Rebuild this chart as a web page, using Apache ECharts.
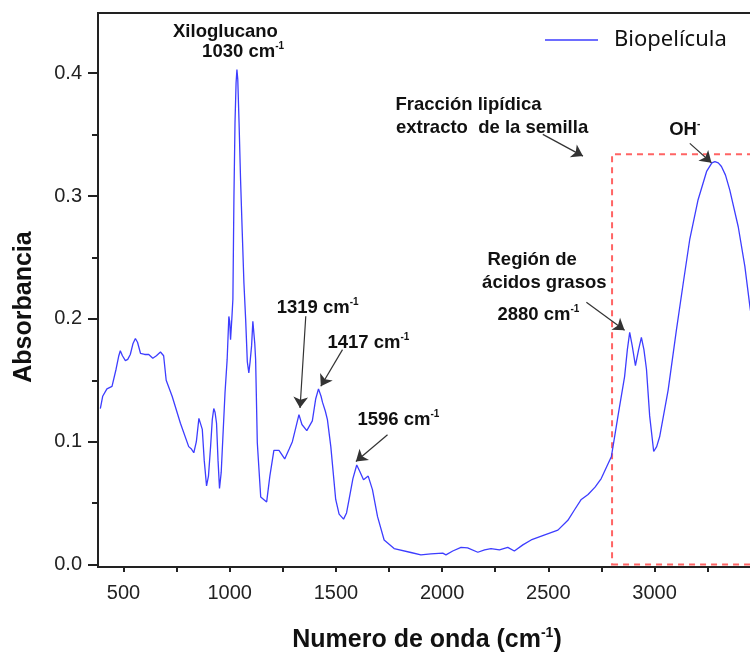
<!DOCTYPE html>
<html>
<head>
<meta charset="utf-8">
<script src="https://cdn.jsdelivr.net/npm/echarts@6/dist/echarts.min.js"></script>
<style>
  html, body { margin: 0; padding: 0; background: #fff; width: 750px; height: 654px; overflow: hidden; }
  #chart { width: 800px; height: 654px; }
</style>
</head>
<body>
<div id="chart"></div>
<script>
// spectrum (wavenumber cm-1 / absorbance)
var wavenumber = [391, 402, 422, 446, 465, 478, 485, 495, 509, 520, 532, 545, 556, 566, 580, 600, 619, 638, 655, 674,
  689, 701, 729, 768, 807, 820, 831, 843, 855, 862, 871, 880, 891, 900, 910, 918, 925, 931, 938, 945,
  952, 960, 968, 978, 988, 996, 1000, 1004, 1010, 1015, 1020, 1025, 1030, 1034, 1038, 1044, 1051, 1059, 1067, 1075,
  1083, 1090, 1096, 1103, 1109, 1113, 1118, 1122, 1130, 1146, 1160, 1174, 1189, 1208, 1232, 1259, 1280, 1295, 1312, 1326,
  1340, 1363, 1389, 1405, 1418, 1430, 1437, 1450, 1460, 1476, 1499, 1515, 1536, 1550, 1562, 1580, 1598, 1612, 1630, 1652,
  1672, 1696, 1727, 1774, 1853, 1900, 1947, 2003, 2018, 2050, 2089, 2120, 2168, 2200, 2230, 2270, 2309, 2340, 2380, 2419,
  2480, 2545, 2592, 2625, 2655, 2687, 2720, 2749, 2773, 2797, 2828, 2859, 2872, 2883, 2895, 2910, 2925, 2938, 2950, 2962,
  2977, 2996, 3010, 3024, 3064, 3103, 3135, 3166, 3205, 3245, 3270, 3284, 3300, 3315, 3334, 3354, 3394, 3425, 3449, 3470,
  3500];
var absorbance = [0.127, 0.137, 0.143, 0.145, 0.159, 0.170, 0.174, 0.170, 0.166, 0.167, 0.171, 0.180, 0.184, 0.181, 0.172, 0.171, 0.171, 0.168, 0.170, 0.173,
  0.170, 0.150, 0.137, 0.115, 0.096, 0.094, 0.091, 0.100, 0.119, 0.118, 0.110, 0.085, 0.064, 0.072, 0.096, 0.118, 0.127, 0.124, 0.115, 0.085,
  0.062, 0.075, 0.104, 0.140, 0.167, 0.202, 0.198, 0.183, 0.200, 0.216, 0.300, 0.360, 0.392, 0.403, 0.395, 0.360, 0.314, 0.271, 0.229, 0.200,
  0.165, 0.156, 0.165, 0.178, 0.198, 0.197, 0.180, 0.167, 0.099, 0.055, 0.053, 0.051, 0.072, 0.093, 0.093, 0.086, 0.094, 0.100, 0.112, 0.122,
  0.114, 0.109, 0.117, 0.135, 0.143, 0.137, 0.132, 0.125, 0.118, 0.096, 0.053, 0.041, 0.037, 0.042, 0.053, 0.070, 0.081, 0.076, 0.069, 0.072,
  0.061, 0.039, 0.020, 0.013, 0.0098, 0.0079, 0.0087, 0.0093, 0.0079, 0.011, 0.014, 0.0135, 0.010, 0.012, 0.013, 0.012, 0.014, 0.011, 0.016, 0.020,
  0.024, 0.028, 0.036, 0.045, 0.053, 0.057, 0.063, 0.070, 0.079, 0.088, 0.121, 0.153, 0.175, 0.189, 0.178, 0.162, 0.175, 0.185, 0.175, 0.159,
  0.121, 0.092, 0.096, 0.104, 0.142, 0.191, 0.229, 0.265, 0.297, 0.320, 0.327, 0.328, 0.327, 0.324, 0.317, 0.305, 0.275, 0.243, 0.210, 0.185,
  0.150];

var xLabels = [500, 1000, 1500, 2000, 2500, 3000];
var xTicks = [500, 750, 1000, 1250, 1500, 1750, 2000, 2250, 2500, 2750, 3000, 3250, 3500];
var yLabels = [0, 0.1, 0.2, 0.3, 0.4];
var yMinorTicks = [0.05, 0.15, 0.25, 0.35];

// annotation texts and where they sit (data coords)
var noteText = ['Xiloglucano', '1030 cm|-1', 'Fracción lipídica', 'extracto  de la semilla', 'OH|-',
  '1319 cm|-1', '1417 cm|-1', '1596 cm|-1', 'Región de', 'ácidos grasos', '2880 cm|-1'];
var noteAt = [[980, 0.434], [1063, 0.4174], [2124, 0.3738], [2235, 0.3551], [3142, 0.3542],
  [1414, 0.2088], [1653, 0.1803], [1794, 0.1179], [2424, 0.2482], [2481, 0.2296], [2453, 0.2035]];
var arrowFrom = [[2474, 0.3502], [3166, 0.3429], [1358, 0.2021], [1531, 0.175], [1743, 0.1057], [2679, 0.2135]];
var arrowTo = [[2663, 0.3325], [3268, 0.3271], [1331, 0.1275], [1429, 0.1451], [1594, 0.0839], [2859, 0.1907]];
var boxFrom = [2800, 0];
var boxTo = [3590, 0.334];

var blue = '#3d3dff';
var ink = '#222';
var font = 'Liberation Sans';

var points = wavenumber.map(function (w, i) { return [w, absorbance[i]]; });

function richNote(t) {
    var parts = t.split('|');
    return parts.length > 1 ? '{b|' + parts[0] + '}{s|' + parts[1] + '}' : '{b|' + t + '}';
}

var chart = echarts.init(document.getElementById('chart'));

var option = {
    animation: false,
    backgroundColor: '#fff',
    grid: {
        left: 98, top: 13, bottom: 87, right: 18,
        show: true, borderColor: ink, borderWidth: 2, backgroundColor: 'transparent'
    },
    legend: {
        data: [{ name: 'Biopelícula', icon: 'rect' }],
        left: 545, top: 29, padding: 0,
        itemWidth: 53, itemHeight: 1.5,
        itemStyle: { color: blue },
        textStyle: { fontFamily: 'Noto Sans', fontSize: 22, color: '#111', padding: [0, 0, 0, 11] }
    },
    xAxis: {
        type: 'value', min: 380, max: 3600,
        axisLine: { onZero: false, lineStyle: { color: ink, width: 2 } },
        axisTick: { customValues: xTicks, length: 5, lineStyle: { color: ink, width: 2 } },
        axisLabel: {
            customValues: xLabels, margin: 16, fontFamily: font, fontSize: 20, color: ink,
            formatter: function (v) { return String(v); }
        },
        splitLine: { show: false }
    },
    yAxis: [{
        type: 'value', min: -0.002, max: 0.449,
        axisLine: { onZero: false, lineStyle: { color: ink, width: 2 } },
        axisTick: { customValues: yLabels, length: 10, lineStyle: { color: ink, width: 2 } },
        axisLabel: {
            customValues: yLabels, margin: 16, fontFamily: font, fontSize: 20, color: ink,
            formatter: function (v) { return v.toFixed(1); }
        },
        splitLine: { show: false }
    }, {
        type: 'value', min: -0.002, max: 0.449, position: 'left',
        axisLine: { show: false },
        axisTick: { customValues: yMinorTicks, length: 6, lineStyle: { color: ink, width: 2 } },
        axisLabel: { show: false },
        splitLine: { show: false }
    }],
    graphic: [{
        type: 'text', x: 24, y: 307, rotation: Math.PI / 2,
        style: {
            text: 'Absorbancia', fill: '#111', font: 'bold 25px "Liberation Sans"',
            align: 'center', verticalAlign: 'middle'
        }
    }, {
        type: 'text', x: 427, y: 640,
        style: {
            text: '{b|Numero de onda (cm}{s|-1}{b|)}',
            align: 'center', verticalAlign: 'middle',
            rich: {
                b: { fontFamily: font, fontWeight: 'bold', fontSize: 25, fill: '#111', lineHeight: 28 },
                s: { fontFamily: font, fontWeight: 'bold', fontSize: 14, fill: '#111', verticalAlign: 'top' }
            }
        }
    }],
    series: [{
        name: 'Biopelícula',
        type: 'line',
        data: points,
        symbol: 'none',
        showSymbol: false,
        lineStyle: { color: blue, width: 1.3 },
        itemStyle: { color: blue },
        markArea: {
            silent: true,
            itemStyle: { color: 'rgba(0,0,0,0)', borderColor: '#ff6464', borderWidth: 2, borderType: [6, 5] },
            data: [[{ coord: boxFrom }, { coord: boxTo }]]
        },
        markLine: {
            silent: true,
            symbol: ['none', 'arrow'],
            symbolSize: 11,
            lineStyle: { color: '#333', width: 1.2, type: 'solid' },
            label: { show: false },
            data: arrowFrom.map(function (p, i) { return [{ coord: p }, { coord: arrowTo[i] }]; })
        },
        markPoint: {
            silent: true,
            symbol: 'circle',
            symbolSize: 0,
            data: noteText.map(function (t, i) {
                return {
                    coord: noteAt[i],
                    label: {
                        show: true, position: 'inside',
                        formatter: richNote(t),
                        rich: {
                            b: { fontFamily: font, fontWeight: 'bold', fontSize: 18.5, color: '#111', lineHeight: 21 },
                            s: { fontFamily: font, fontWeight: 'bold', fontSize: 10, color: '#111', verticalAlign: 'top' }
                        }
                    }
                };
            })
        }
    }]
};

chart.setOption(option);
</script>
</body>
</html>
